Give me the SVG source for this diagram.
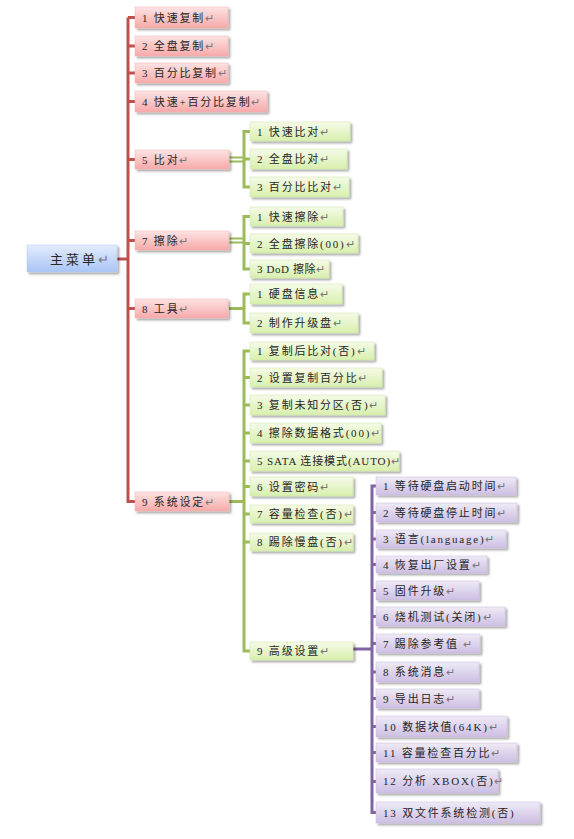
<svg xmlns="http://www.w3.org/2000/svg" width="574" height="839" viewBox="0 0 574 839">
<defs>
<linearGradient id="gRed" x1="0" y1="0" x2="0" y2="1"><stop offset="0" stop-color="#fde3e3"/><stop offset="1" stop-color="#f7a9a9"/></linearGradient>
<linearGradient id="gGreen" x1="0" y1="0" x2="0" y2="1"><stop offset="0" stop-color="#f5fbe8"/><stop offset="1" stop-color="#d8efad"/></linearGradient>
<linearGradient id="gPurple" x1="0" y1="0" x2="0" y2="1"><stop offset="0" stop-color="#efeaf6"/><stop offset="1" stop-color="#cdbfe3"/></linearGradient>
<linearGradient id="gBlue" x1="0" y1="0" x2="0" y2="1"><stop offset="0" stop-color="#e3ecfc"/><stop offset="1" stop-color="#a9c5f5"/></linearGradient>
<filter id="sh" x="-10%" y="-20%" width="130%" height="160%"><feDropShadow dx="2" dy="2" stdDeviation="1.2" flood-color="#000" flood-opacity="0.35"/></filter>
</defs>
<style>
rect{filter:url(#sh)}
.r{fill:url(#gRed);stroke:#f2b0b0;stroke-width:0.5}
.g{fill:url(#gGreen);stroke:#cfe6a6;stroke-width:0.5}
.p{fill:url(#gPurple);stroke:#c9bbe0;stroke-width:0.5}
.b{fill:url(#gBlue);stroke:#b3c9ee;stroke-width:0.5}
text{font-family:"Liberation Serif","Noto Sans CJK SC",serif;font-size:11px;letter-spacing:1.8px;fill:#262626}
.m{font-size:13px;letter-spacing:3px}
.ret{fill:#777;letter-spacing:0}
.cr{stroke:#c0504d;stroke-width:3;fill:none}
.cg{stroke:#9bbb59;stroke-width:3;fill:none}
.cg2{stroke:#9bbb59;stroke-width:2;fill:none}
.cp{stroke:#8064a2;stroke-width:3;fill:none}
</style>
<g id="connectors">
<path class="cr" d="M117 259H128M128 17.5V501.5H135M128 17.5H135M128 46H135M128 73H135M128 101.5H135M128 159.5H135M128 240.5H135M128 308.5H135"/>
<path class="cg2" d="M229 157.5H244M229 161.5H244"/>
<path class="cg" d="M250 131.5H244V187H250M244 159H250"/>
<path class="cg2" d="M229 238.5H244M229 242.5H244"/>
<path class="cg" d="M250 216.5H244V269H250M244 243.5H250"/>
<path class="cg" d="M229 308.5H244M250 294H244V323H250"/>
<path class="cg" d="M229 501.5H244M250 351H244V651H250M244 377.5H250M244 405H250M244 433H250M244 461H250M244 486.5H250M244 514H250M244 542H250"/>
<path class="cp" d="M353 649H372M376 486H372V812.5H376M372 512.5H376M372 539H376M372 564.5H376M372 590.5H376M372 616.5H376M372 643.5H376M372 672H376M372 698.5H376M372 726.5H376M372 752.5H376M372 781.5H376"/>
</g>
<g id="main"><rect class="b" x="27" y="245" width="90" height="27"/><text class="m" x="50" y="263.5">主菜单<tspan class="ret">↵</tspan></text></g>
<g id="n1"><rect class="r" x="135" y="7" width="93" height="21"/><text x="142" y="21.5">1 快速复制<tspan class="ret">↵</tspan></text></g>
<g id="n2"><rect class="r" x="135" y="36" width="93" height="20"/><text x="142" y="50">2 全盘复制<tspan class="ret">↵</tspan></text></g>
<g id="n3"><rect class="r" x="135" y="63" width="93" height="20"/><text x="142" y="77">3 百分比复制<tspan class="ret">↵</tspan></text></g>
<g id="n4"><rect class="r" x="135" y="91" width="132" height="21"/><text x="142" y="105.5">4 快速+百分比复制<tspan class="ret">↵</tspan></text></g>
<g id="n5"><rect class="r" x="135" y="150" width="94" height="19"/><text x="142" y="163.5">5 比对<tspan class="ret">↵</tspan></text></g>
<g id="n7"><rect class="r" x="135" y="231" width="94" height="19"/><text x="142" y="244.5">7 擦除<tspan class="ret">↵</tspan></text></g>
<g id="n8"><rect class="r" x="135" y="299" width="93" height="19"/><text x="142" y="312.5">8 工具<tspan class="ret">↵</tspan></text></g>
<g id="n9"><rect class="r" x="135" y="492" width="94" height="19"/><text x="142" y="505.5">9 系统设定<tspan class="ret">↵</tspan></text></g>
<g id="n5-1"><rect class="g" x="250" y="122" width="100" height="19"/><text x="257" y="135.5">1 快速比对<tspan class="ret">↵</tspan></text></g>
<g id="n5-2"><rect class="g" x="250" y="149" width="97" height="20"/><text x="257" y="163">2 全盘比对<tspan class="ret">↵</tspan></text></g>
<g id="n5-3"><rect class="g" x="250" y="177" width="99" height="20"/><text x="257" y="191">3 百分比比对<tspan class="ret">↵</tspan></text></g>
<g id="n7-1"><rect class="g" x="250" y="207" width="93" height="19"/><text x="257" y="220.5">1 快速擦除<tspan class="ret">↵</tspan></text></g>
<g id="n7-2"><rect class="g" x="250" y="234" width="108" height="19"/><text x="257" y="247.5">2 全盘擦除(00)<tspan class="ret">↵</tspan></text></g>
<g id="n7-3"><rect class="g" x="250" y="260" width="79" height="18"/><text x="257" y="273" style="letter-spacing:0.6px">3 DoD 擦除<tspan class="ret">↵</tspan></text></g>
<g id="n8-1"><rect class="g" x="250" y="284" width="92" height="20"/><text x="257" y="298">1 硬盘信息<tspan class="ret">↵</tspan></text></g>
<g id="n8-2"><rect class="g" x="250" y="313" width="108" height="20"/><text x="257" y="327">2 制作升级盘<tspan class="ret">↵</tspan></text></g>
<g id="n9-1"><rect class="g" x="250" y="342" width="124" height="18"/><text x="257" y="355">1 复制后比对(否)<tspan class="ret">↵</tspan></text></g>
<g id="n9-2"><rect class="g" x="250" y="368" width="132" height="19"/><text x="257" y="381.5">2 设置复制百分比<tspan class="ret">↵</tspan></text></g>
<g id="n9-3"><rect class="g" x="250" y="395" width="135" height="20"/><text x="257" y="409">3 复制未知分区(否)<tspan class="ret">↵</tspan></text></g>
<g id="n9-4"><rect class="g" x="250" y="423" width="131" height="20"/><text x="257" y="437">4 擦除数据格式(00)<tspan class="ret">↵</tspan></text></g>
<g id="n9-5"><rect class="g" x="250" y="451" width="149" height="20"/><text x="257" y="465" style="letter-spacing:0.9px">5 SATA 连接模式(AUTO)<tspan class="ret">↵</tspan></text></g>
<g id="n9-6"><rect class="g" x="250" y="477" width="103" height="19"/><text x="257" y="490.5">6 设置密码<tspan class="ret">↵</tspan></text></g>
<g id="n9-7"><rect class="g" x="250" y="505" width="103" height="18"/><text x="257" y="518">7 容量检查(否)<tspan class="ret">↵</tspan></text></g>
<g id="n9-8"><rect class="g" x="250" y="533" width="103" height="18"/><text x="257" y="546">8 踢除慢盘(否)<tspan class="ret">↵</tspan></text></g>
<g id="n9-9"><rect class="g" x="250" y="642" width="103" height="18"/><text x="257" y="655">9 高级设置<tspan class="ret">↵</tspan></text></g>
<g id="a1"><rect class="p" x="376" y="477" width="140" height="18"/><text x="383" y="490">1 等待硬盘启动时间<tspan class="ret">↵</tspan></text></g>
<g id="a2"><rect class="p" x="376" y="503" width="141" height="19"/><text x="383" y="516.5">2 等待硬盘停止时间<tspan class="ret">↵</tspan></text></g>
<g id="a3"><rect class="p" x="376" y="530" width="130" height="18"/><text x="383" y="543">3 语言(language)<tspan class="ret">↵</tspan></text></g>
<g id="a4"><rect class="p" x="376" y="556" width="111" height="17"/><text x="383" y="568.5">4 恢复出厂设置<tspan class="ret">↵</tspan></text></g>
<g id="a5"><rect class="p" x="376" y="581" width="103" height="19"/><text x="383" y="594.5">5 固件升级<tspan class="ret">↵</tspan></text></g>
<g id="a6"><rect class="p" x="376" y="607" width="129" height="19"/><text x="383" y="620.5">6 烧机测试(关闭)<tspan class="ret">↵</tspan></text></g>
<g id="a7"><rect class="p" x="376" y="634" width="104" height="19"/><text x="383" y="647.5">7 踢除参考值 <tspan class="ret">↵</tspan></text></g>
<g id="a8"><rect class="p" x="376" y="662" width="103" height="20"/><text x="383" y="676">8 系统消息<tspan class="ret">↵</tspan></text></g>
<g id="a9"><rect class="p" x="376" y="689" width="103" height="19"/><text x="383" y="702.5">9 导出日志<tspan class="ret">↵</tspan></text></g>
<g id="a10"><rect class="p" x="376" y="716" width="131" height="21"/><text x="383" y="730.5">10 数据块值(64K)<tspan class="ret">↵</tspan></text></g>
<g id="a11"><rect class="p" x="376" y="743" width="141" height="19"/><text x="383" y="756.5">11 容量检查百分比<tspan class="ret">↵</tspan></text></g>
<g id="a12"><rect class="p" x="376" y="769" width="122" height="24"/><text x="383" y="785">12 分析 XBOX(否)<tspan class="ret">↵</tspan></text></g>
<g id="a13"><rect class="p" x="376" y="802" width="164" height="21"/><text x="383" y="816.5">13 双文件系统检测(否)</text></g>
</svg>
